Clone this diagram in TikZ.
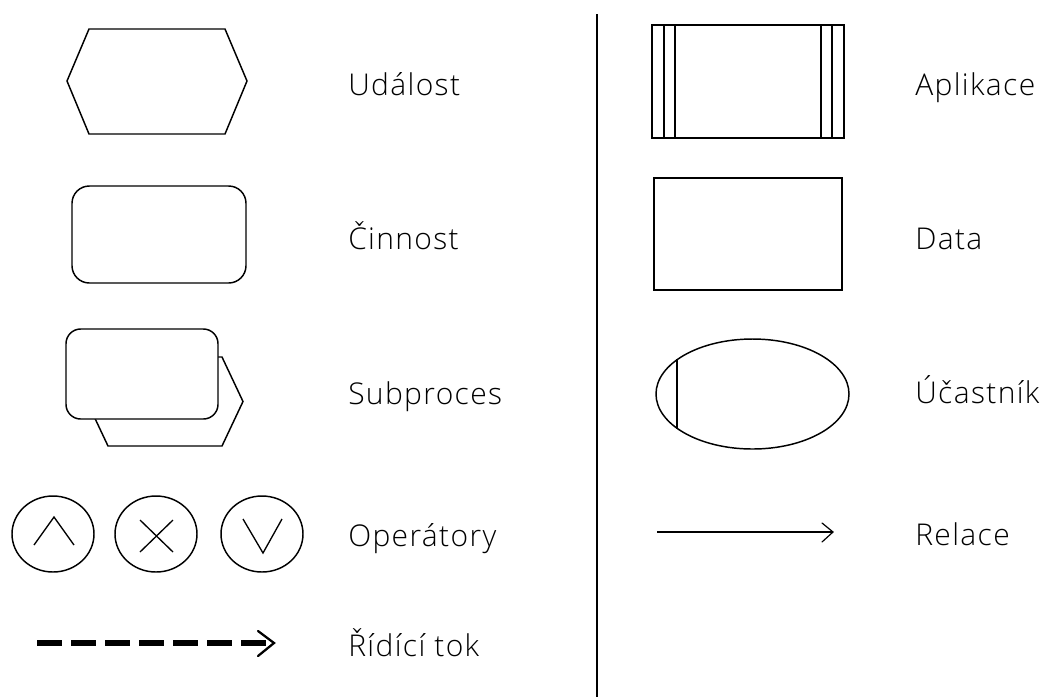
\documentclass[tikz,border=0pt]{standalone}
\usepackage{fontspec}
\setmainfont{Open Sans}[UprightFont=* Light, LetterSpace=4.5]
\begin{document}
\begin{tikzpicture}[x=0.75pt,y=-0.75pt,
  shape line/.style={draw=black,line width=1.1pt,line join=miter},
  thin line/.style={draw=black,line width=0.8pt},
  label text/.style={anchor=base west,inner sep=0pt,font=\fontsize{22.5}{27}\selectfont,text=black},
  chevron/.style={draw=black,line cap=round,line join=miter}]
\useasboundingbox (0,0) rectangle (1044,697);

% divider between the two columns
\coordinate (divtop) at (597,14);
\coordinate (divbot) at (597,697);
\draw[line width=1.6pt] (divtop) -- (divbot);

% --- left column ---
% event: hexagon
\draw[shape line] (89,29) -- (225,29) -- (247,81) -- (225,134) -- (89,134) -- (67,81) -- cycle;
\node[label text] (udalost) at (348,95) {Událost};

% activity: rounded rectangle
\draw[shape line,rounded corners=13pt] (72,186) rectangle (246,283);
\node[label text] (cinnost) at (348,249) {Činnost};

% subprocess: hexagon behind a rounded rectangle
\draw[shape line,fill=white] (108,357) -- (222,357) -- (243,401.5) -- (222,446) -- (108,446) -- (87,401.5) -- cycle;
\draw[shape line,fill=white,rounded corners=11pt] (66,329) rectangle (218,419);
\node[label text] (subproces) at (348,404) {Subproces};

% operators: AND, XOR, OR
\draw[shape line] (53,534) ellipse [x radius=41, y radius=38];
\draw[thin line,line width=1pt] (34,545) -- (54,517) -- (74,545);
\draw[shape line] (156,534) ellipse [x radius=41, y radius=38];
\draw[thin line,line width=1pt] (140,520) -- (173,552) (140,552) -- (173,520);
\draw[shape line] (262,534) ellipse [x radius=41, y radius=38];
\draw[thin line,line width=1pt] (243,519) -- (263,553) -- (282,519);
\node[label text] (operatory) at (348,546) {Operátory};

% control flow: dashed arrow
\coordinate (flowstart) at (37,643);
\coordinate (flowend) at (272,643);
\draw[line width=3.8pt,dash pattern=on 18.75pt off 6.75pt] (flowstart) -- (flowend);
\draw[chevron,line width=1.7pt] (258,631) -- (274,643) -- (258,656);
\node[label text] (riditok) at (348,656) {Řídící tok};

% --- right column ---
% application: rectangle with double side bars
\draw[thin line] (652,25) rectangle (844,138);
\draw[thin line] (664,25) -- (664,138) (675,25) -- (675,138)
                 (821,25) -- (821,138) (832,25) -- (832,138);
\node[label text] (aplikace) at (915,95) {Aplikace};

% data: plain rectangle
\draw[shape line] (654,178) rectangle (842,290);
\node[label text] (data) at (915,249) {Data};

% participant: ellipse with a vertical bar
\draw[shape line] (752.5,394) ellipse [x radius=96.5, y radius=55];
\draw[shape line] (677,359.4) -- (677,428.6);
\node[label text] (ucastnik) at (915,403) {Účastník};

% relation: thin arrow
\coordinate (relstart) at (657,532);
\coordinate (relend) at (833,532);
\draw[thin line] (relstart) -- (relend);
\draw[chevron,line width=0.9pt] (822,523) -- (833,532) -- (822,542);
\node[label text] (relace) at (915,545) {Relace};
\end{tikzpicture}
\end{document}
